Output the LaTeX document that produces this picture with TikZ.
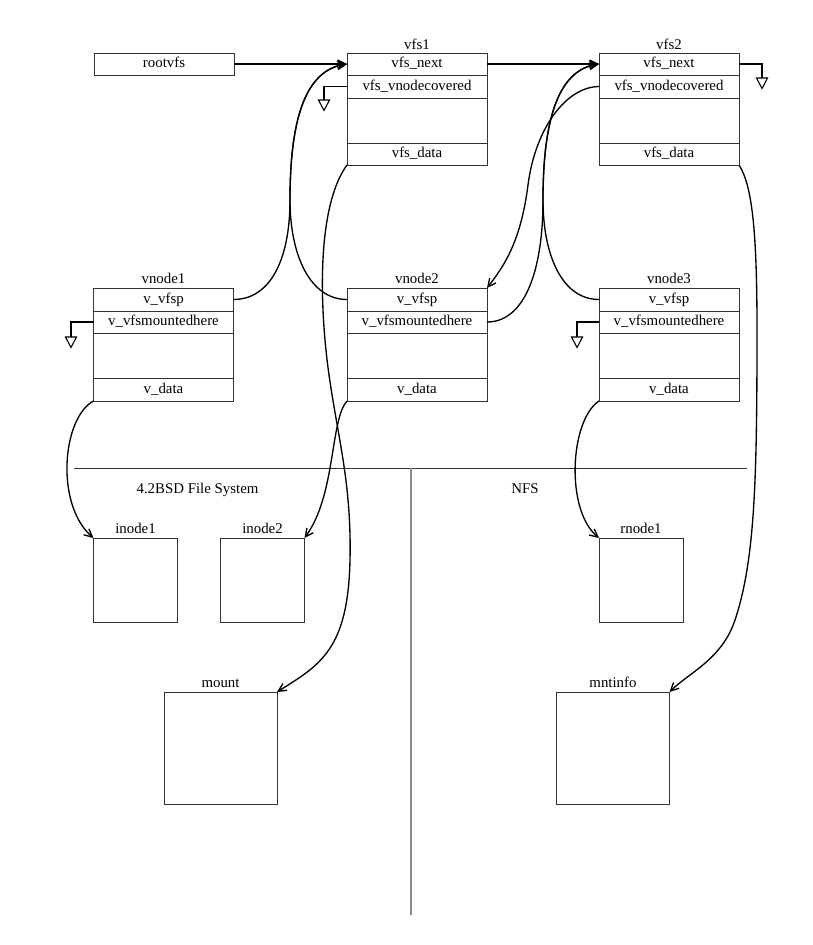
\documentclass[tikz,border=0pt]{standalone}
\usepackage{fontspec}
\setmainfont{Liberation Serif}
\usetikzlibrary{arrows.meta}
\begin{document}
\begin{tikzpicture}[x=0.75pt,y=-0.75pt,
  every node/.style={font=\fontsize{11.15pt}{13pt}\selectfont},
  box/.style={draw=black!80, line width=0.6pt, inner sep=0pt, outer sep=0pt, text height=7.6pt, text depth=2.2pt},
  fld/.style={box, minimum width=105pt},
  hA/.style={minimum height=16.5pt},
  hB/.style={minimum height=17.25pt},
  hC/.style={minimum height=33.75pt},
  lbl/.style={anchor=base, inner sep=0pt},
  ptr/.style={draw=black, line width=1pt, -{Straight Barb[length=6pt,width=6pt]}},
  link/.style={draw=black, line width=1pt},
  divider/.style={draw=black!80, line width=0.6pt},
  vdivider/.style={draw=black!45, line width=1.2pt},
  nulltri/.pic={\draw[line width=0.8pt, fill=white] (-5.5,0) -- (5.5,0) -- (0,10.5) -- cycle;}
]
\useasboundingbox (0,0) rectangle (813,945);

% dividers
\coordinate (hl) at (74,468);
\coordinate (hr) at (747,468);
\coordinate (vt) at (411,468);
\coordinate (vb) at (411,915);
\draw[divider] (hl) -- (hr);
\draw[vdivider] (vt) -- (vb);
\node[lbl] (bsd) at (197.5,493.3) {4.2BSD File System};
\node[lbl] (nfs) at (525,493.3) {NFS};

% rootvfs
\node[fld,hA] (root) at (164,64) {rootvfs};

% vfs1
\node[lbl] (vfs1lbl) at (417,49.5) {vfs1};
\node[fld,hA] (v1next) at (417,64) {vfs\_next};
\node[fld,hB] (v1cov) at (417,86.5) {vfs\_vnodecovered};
\node[fld,hC] (v1blank) at (417,120.5) {};
\node[fld,hA] (v1data) at (417,154) {vfs\_data};

% vfs2
\node[lbl] (vfs2lbl) at (669,49.5) {vfs2};
\node[fld,hA] (v2next) at (669,64) {vfs\_next};
\node[fld,hB] (v2cov) at (669,86.5) {vfs\_vnodecovered};
\node[fld,hC] (v2blank) at (669,120.5) {};
\node[fld,hA] (v2data) at (669,154) {vfs\_data};

% vnode1
\node[lbl] (n1lbl) at (163.5,283.5) {vnode1};
\node[fld,hB] (n1vfsp) at (163.5,299.5) {v\_vfsp};
\node[fld,hA] (n1mnt) at (163.5,322) {v\_vfsmountedhere};
\node[fld,hC] (n1blank) at (163.5,355.5) {};
\node[fld,hB] (n1data) at (163.5,389.5) {v\_data};

% vnode2
\node[lbl] (n2lbl) at (417,283.5) {vnode2};
\node[fld,hB] (n2vfsp) at (417,299.5) {v\_vfsp};
\node[fld,hA] (n2mnt) at (417,322) {v\_vfsmountedhere};
\node[fld,hC] (n2blank) at (417,355.5) {};
\node[fld,hB] (n2data) at (417,389.5) {v\_data};

% vnode3
\node[lbl] (n3lbl) at (669,283.5) {vnode3};
\node[fld,hB] (n3vfsp) at (669,299.5) {v\_vfsp};
\node[fld,hA] (n3mnt) at (669,322) {v\_vfsmountedhere};
\node[fld,hC] (n3blank) at (669,355.5) {};
\node[fld,hB] (n3data) at (669,389.5) {v\_data};

% inodes
\node[lbl] (i1lbl) at (135.5,533.5) {inode1};
\node[box, minimum width=63pt, minimum height=63pt] (inode1) at (135.5,580) {};
\node[lbl] (i2lbl) at (262.5,533.5) {inode2};
\node[box, minimum width=63pt, minimum height=63pt] (inode2) at (262.5,580) {};
\node[lbl] (r1lbl) at (641,533.5) {rnode1};
\node[box, minimum width=63pt, minimum height=63pt] (rnode1) at (641,580) {};

% mount structures
\node[lbl] (mlbl) at (220.5,687.5) {mount};
\node[box, minimum width=84.75pt, minimum height=84pt] (mount) at (220.5,748) {};
\node[lbl] (milbl) at (613,687.5) {mntinfo};
\node[box, minimum width=84.75pt, minimum height=84pt] (mntinfo) at (613,748) {};

% straight pointers
\draw[ptr] (root.east) -- (v1next.west);
\draw[ptr] (v1next.east) -- (v2next.west);

% v_vfsp / mountedhere pointers
\draw[ptr] (n1vfsp.east) .. controls (270,299.5) and (290,260) .. (290,200) .. controls (290,120) and (305,70) .. (v1next.west);
\draw[ptr] (n2vfsp.west) .. controls (310,299.5) and (290,255) .. (290,200) .. controls (290,120) and (305,70) .. (v1next.west);
\draw[ptr] (n2mnt.east) .. controls (525,322) and (543,270) .. (543,200) .. controls (543,120) and (558,70) .. (v2next.west);
\draw[ptr] (n3vfsp.west) .. controls (562,299.5) and (543,255) .. (543,200) .. controls (543,120) and (558,70) .. (v2next.west);

% vnodecovered
\draw[ptr] (v2cov.west) .. controls (565,87) and (535,130) .. (528,185) .. controls (521,240) and (505,265) .. (n2vfsp.north east);

% vfs_data
\draw[ptr] (v1data.south west) .. controls (325,195) and (318,260) .. (325,340) .. controls (332,420) and (352,470) .. (350,560) .. controls (348,650) and (320,665) .. (mount.north east);
\draw[ptr] (v2data.south east) .. controls (752,185) and (757,230) .. (757,330) .. controls (757,480) and (755,560) .. (735,620) .. controls (722,659) and (690,672) .. (mntinfo.north east);

% v_data
\draw[ptr] (n1data.south west) .. controls (62,418) and (55,505) .. (inode1.north west);
\draw[ptr] (n2data.south west) .. controls (330,420) and (336,495) .. (inode2.north east);
\draw[ptr] (n3data.south west) .. controls (570,420) and (565,510) .. (rnode1.north west);

% null pointers
\coordinate (z1) at (324,100);
\draw[link] (v1cov.west) -| (z1);
\pic at (z1) {nulltri};
\coordinate (z2) at (762,78);
\draw[link] (v2next.east) -| (z2);
\pic at (z2) {nulltri};
\coordinate (z3) at (71,337);
\draw[link] (n1mnt.west) -| (z3);
\pic at (z3) {nulltri};
\coordinate (z4) at (577,337);
\draw[link] (n3mnt.west) -| (z4);
\pic at (z4) {nulltri};
\end{tikzpicture}
\end{document}
